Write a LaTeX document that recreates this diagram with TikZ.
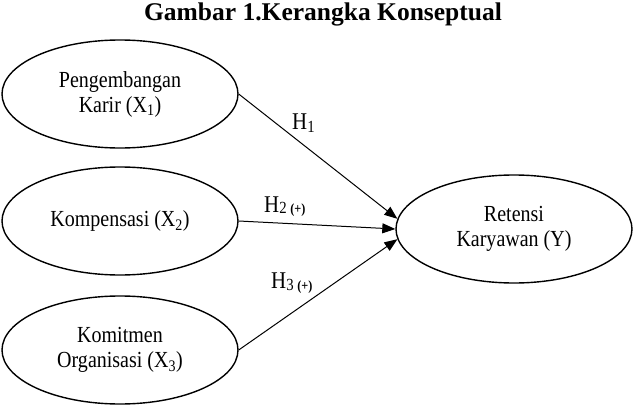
\documentclass[tikz,border=0pt]{standalone}
\usepackage{fontspec}
\setmainfont{Liberation Serif}
\newfontfamily\cond[FakeStretch=0.87]{Liberation Serif}
\usetikzlibrary{shapes.geometric,arrows.meta}
\begin{document}
\begin{tikzpicture}[x=1pt,y=-1pt,
  var/.style={draw,ellipse,line width=1.4pt,minimum width=236pt,minimum height=108pt,inner sep=0pt,align=center,font=\cond\fontsize{23}{25}\selectfont},
  link/.style={line width=1pt,-{Triangle[length=13pt,width=10pt]}},
  hlab/.style={font=\cond\fontsize{24}{24}\selectfont,inner sep=0pt,anchor=base west}]
\useasboundingbox (0,0) rectangle (633,407);
\node[font=\fontsize{25.5}{28}\selectfont\bfseries] (title) at (323,14) {Gambar 1.Kerangka Konseptual};
\node[var] (x1) at (120,94) {Pengembangan\\Karir (X\textsubscript{1})};
\node[var] (x2) at (120,221) {Kompensasi (X\textsubscript{2})};
\node[var] (x3) at (120,350) {Komitmen\\Organisasi (X\textsubscript{3})};
\node[var] (y) at (514,229) {Retensi\\Karyawan (Y)};
\draw[link] (x1.east) -- (y.175);
\draw[link] (x2.east) -- (y.west);
\draw[link] (x3.east) -- (y.185);
\node[hlab] (h1) at (292,129) {H\raisebox{-3pt}{\fontsize{17}{17}\selectfont 1}};
\node[hlab] (h2) at (264,212) {H\raisebox{-1.5pt}{\fontsize{17}{17}\selectfont 2 \bfseries\fontsize{14}{14}\selectfont(+)}};
\node[hlab] (h3) at (271,288) {H\raisebox{-2.5pt}{\fontsize{17}{17}\selectfont 3 \bfseries\fontsize{14}{14}\selectfont(+)}};
\end{tikzpicture}
\end{document}
